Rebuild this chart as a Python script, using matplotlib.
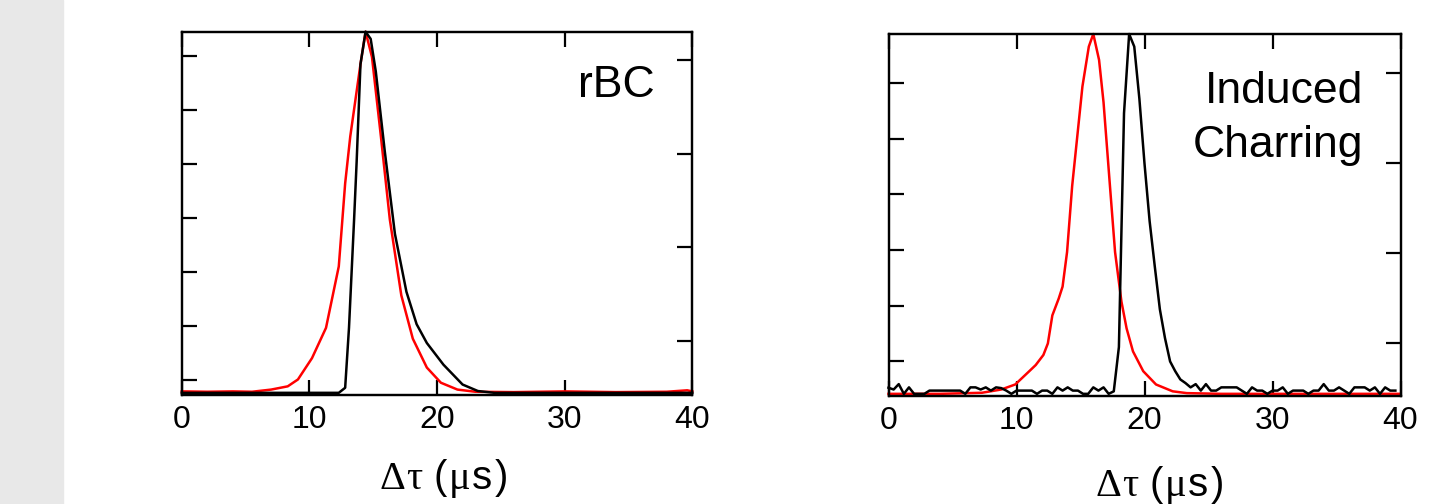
import numpy as np
import matplotlib.pyplot as plt
from matplotlib.patches import Rectangle
from matplotlib.offsetbox import TextArea, HPacker, AnnotationBbox

plt.rcParams['font.family'] = ['Liberation Sans', 'DejaVu Sans']

W, H = 1445, 504

# left panel (rBC) - normalised signals
rbc_black_t = [0, 5, 10, 12.3, 12.8, 13.1, 13.5, 13.7, 14.0, 14.4, 14.8, 15.2, 15.9,
               16.7, 17.6, 18.4, 19.2, 20.5, 22.0, 23.2, 24.5, 30, 35, 40]
rbc_black = [0, 0, 0, 0, 0.014, 0.18, 0.48, 0.64, 0.91, 1.0, 0.98, 0.89, 0.67,
             0.44, 0.28, 0.19, 0.138, 0.078, 0.023, 0.005, 0, 0, 0, 0]
rbc_red_t = [0, 2, 4, 5.5, 7.0, 8.3, 9.1, 10.2, 11.3, 12.3, 12.8, 13.2, 13.6, 14.0,
             14.4, 14.9, 15.6, 16.3, 17.2, 18.1, 19.2, 20.3, 21.6, 23.0, 26, 30,
             34, 38, 39.6, 40]
rbc_red = [0.004, 0.003, 0.004, 0.003, 0.009, 0.018, 0.037, 0.096, 0.18, 0.35, 0.58,
           0.71, 0.81, 0.91, 1.0, 0.93, 0.71, 0.48, 0.27, 0.15, 0.07, 0.028, 0.009,
           0.003, 0.002, 0.004, 0.002, 0.003, 0.007, 0.004]

# right panel (induced charring)
char_black_t = np.linspace(0, 39.6, 100)
char_black = [0.017, 0.012, 0.027, 0.0, 0.018, 0.0, 0.0, 0.0, 0.009, 0.009,
              0.009, 0.009, 0.009, 0.009, 0.009, 0.0, 0.018, 0.018, 0.012, 0.018,
              0.009, 0.018, 0.016, 0.009, 0.0, 0.009, 0.009, 0.009, 0.009, 0.0,
              0.009, 0.009, 0.0, 0.018, 0.009, 0.018, 0.009, 0.009, 0.0, 0.0,
              0.018, 0.009, 0.018, 0.0, 0.007, 0.13, 0.78, 1.0, 0.965, 0.82,
              0.64, 0.48, 0.355, 0.235, 0.155, 0.09, 0.063, 0.04, 0.03, 0.018,
              0.027, 0.009, 0.027, 0.009, 0.009, 0.018, 0.018, 0.018, 0.018, 0.009,
              0.0, 0.018, 0.009, 0.009, 0.0, 0.009, 0.009, 0.018, 0.0, 0.009,
              0.009, 0.009, 0.0, 0.009, 0.009, 0.027, 0.009, 0.009, 0.018, 0.009,
              0.0, 0.018, 0.018, 0.018, 0.009, 0.018, 0.0, 0.018, 0.009, 0.009]
char_red_t = [0, 4, 7.3, 8.8, 9.9, 11.0, 11.5, 12.1, 12.45, 12.8, 13.3, 13.6, 13.95,
              14.35, 14.75, 15.15, 15.65, 16.0, 16.45, 16.8, 17.3, 17.7, 18.2, 18.6,
              19.1, 19.9, 20.9, 22.2, 23.3, 26, 30, 35, 40]
char_red = [0, 0, 0.003, 0.012, 0.026, 0.063, 0.08, 0.108, 0.14, 0.218, 0.265, 0.298,
            0.394, 0.578, 0.716, 0.854, 0.965, 1.0, 0.928, 0.81, 0.578, 0.394, 0.256,
            0.182, 0.118, 0.063, 0.026, 0.007, 0.002, 0, 0, 0, 0]

xticks = [0, 10, 20, 30, 40]

fig = plt.figure(figsize=(W / 100, H / 100), dpi=100)
fig.patches.append(Rectangle((0, 0), 63 / W, 1, transform=fig.transFigure,
                             color='#e8e8e8', zorder=0))

YLIM = (-0.006, 1.0)


def panel(rect, t1, y1, t2, y2, lticks, rticks):
    ax = fig.add_axes(rect)
    ax.plot(t2, y2, color='red', lw=1.8, clip_on=False)
    ax.plot(t1, y1, color='black', lw=1.8, clip_on=False)
    ax.set_xlim(0, 40)
    ax.set_ylim(*YLIM)
    ax.set_xticks(xticks)
    ax.set_yticks(lticks)
    ax.tick_params(direction='in', length=10.5, width=1.6, top=True, labelleft=False,
                   labelsize=23, pad=7)
    for s in ax.spines.values():
        s.set_linewidth(1.6)
    ax2 = ax.twinx()
    ax2.set_ylim(*YLIM)
    ax2.set_yticks(rticks)
    ax2.tick_params(direction='in', length=10.5, width=1.6, labelright=False)
    for s in ax2.spines.values():
        s.set_linewidth(1.6)
    return ax


def frac_ticks(first, step, n):
    return [YLIM[0] + (first + k * step) * (YLIM[1] - YLIM[0]) for k in range(n)]


ax1 = panel([181.8 / W, 1 - 395 / H, 510.5 / W, 363.3 / H],
            rbc_black_t, rbc_black, rbc_red_t, rbc_red,
            frac_ticks(0.0405, 0.1486, 7), frac_ticks(0.1486, 0.258, 4))
ax2 = panel([888.5 / W, 1 - 396 / H, 512 / W, 362 / H],
            char_black_t, char_black, char_red_t, char_red,
            frac_ticks(0.0958, 0.1538, 6), frac_ticks(0.147, 0.2486, 4))

fig.text(655 / W, 1 - 97 / H, 'rBC', fontsize=32, ha='right', va='baseline')
fig.text(1363 / W, 1 - 103 / H, 'Induced', fontsize=32, ha='right', va='baseline')
fig.text(1363 / W, 1 - 157 / H, 'Charring', fontsize=32, ha='right', va='baseline')


def xlabel(xc, baseline):
    serif, sans = 'Liberation Serif', 'Liberation Sans'
    parts = [('Δ', serif, 0), ('τ', serif, 9), ('(', sans, 2),
             ('μ', serif, 1), ('s', sans, 2), (')', sans, 0)]
    boxes = []
    for t, f, gap in parts:
        boxes.append(TextArea(t, textprops=dict(fontsize=29, family=f)))
        if gap:
            boxes.append(TextArea(' ', textprops=dict(fontsize=gap * 3.3, family=sans)))
    pack = HPacker(children=boxes, pad=0, sep=0, align='baseline')
    ab = AnnotationBbox(pack, (xc / W, 1 - baseline / H), xycoords='figure fraction',
                        frameon=False, box_alignment=(0.5, 0.27), pad=0)
    fig.add_artist(ab)


xlabel(444, 487)
xlabel(1160, 494)

fig.savefig('out.png', dpi=100)
